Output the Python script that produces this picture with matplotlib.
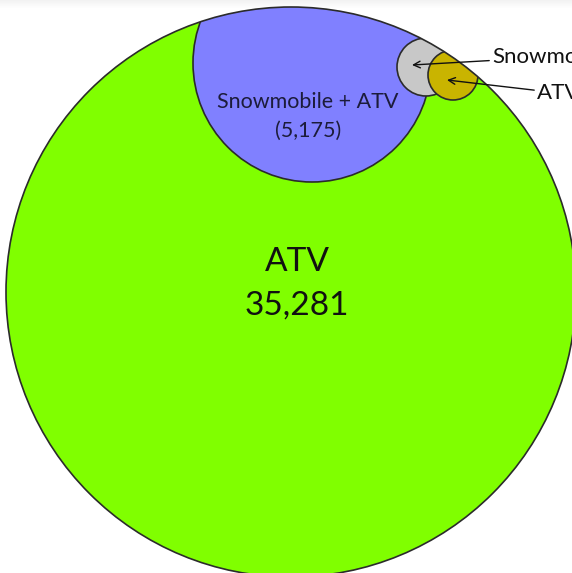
import matplotlib
matplotlib.use("Agg")
import matplotlib.pyplot as plt
from matplotlib.patches import Circle, Rectangle

# ---- data ----
categories = ["ATV", "Snowmobile + ATV", "Snowmobile", "ATV"]
counts = ["35,281", "5,175", None, None]

# ---- layout (pixel space) ----
W, H = 572, 573
fig = plt.figure(figsize=(W / 100, H / 100), dpi=100)
ax = fig.add_axes([0, 0, 1, 1])
ax.set_xlim(0, W)
ax.set_ylim(H, 0)
ax.axis("off")

font = "Lato"
edge = "#2b2b2b"
lw = 1.2

# faint shadow at top
for i in range(8):
    ax.add_patch(Rectangle((0, i), W, 1, color="#000000", alpha=0.05 * (1 - i / 8), lw=0))

BIG_C, BIG_R = (291, 292), 285
big = Circle(BIG_C, BIG_R, facecolor="#80ff00", edgecolor="none", zorder=1)
ax.add_patch(big)

shapes = [
    ((312, 63), 119, "#8080ff"),
    ((426, 67), 29, "#c8c8c8"),
    ((453, 75), 25, "#c9b400"),
]
for i, (c, r, col) in enumerate(shapes):
    p = Circle(c, r, facecolor=col, edgecolor=edge, lw=lw, zorder=2 + i)
    ax.add_patch(p)
    p.set_clip_path(big)

ax.add_patch(Circle(BIG_C, BIG_R, facecolor="none", edgecolor=edge, lw=lw, zorder=10))

ax.text(297, 262, categories[0], ha="center", va="center", fontsize=24,
        family=font, color="#111111", zorder=11)
ax.text(297, 306, counts[0], ha="center", va="center", fontsize=24,
        family=font, color="#111111", zorder=11)
ax.text(308, 102, categories[1], ha="center", va="center", fontsize=15.5,
        family=font, color="#1c1c3a", zorder=11)
ax.text(308, 131, "(" + counts[1] + ")", ha="center", va="center", fontsize=15.5,
        family=font, color="#1c1c3a", zorder=11)

arrow = dict(arrowstyle="->", color="#111111", lw=1.0, shrinkA=0, shrinkB=0,
             mutation_scale=12)
ax.annotate(categories[2], xy=(412, 65), xytext=(492, 57), ha="left", va="center",
            fontsize=16, family=font, color="#111111", zorder=12, arrowprops=arrow)
ax.annotate(categories[3], xy=(447, 80), xytext=(537, 93), ha="left", va="center",
            fontsize=16, family=font, color="#111111", zorder=12, arrowprops=arrow)

fig.savefig("out.png", dpi=100)
